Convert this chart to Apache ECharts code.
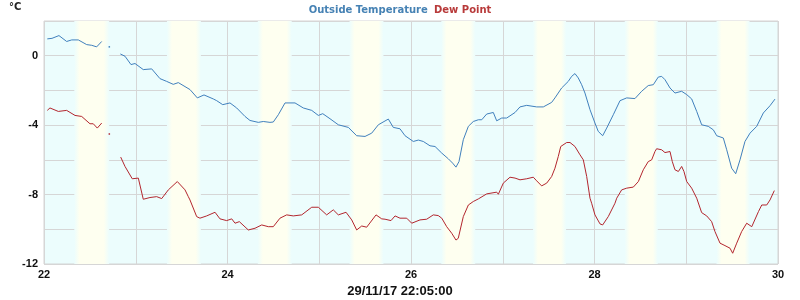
<!DOCTYPE html>
<html>
<head>
<meta charset="utf-8">
<script src="https://cdn.jsdelivr.net/npm/echarts@6/dist/echarts.min.js"></script>
<style>html,body{margin:0;padding:0;background:#fff}#c{width:800px;height:300px}</style>
</head>
<body>
<div id="c"></div>
<script>
// Time in decimal day of month (November 2017); null = gap in logging
const tempTimes = [22.036,22.087,22.163,22.247,22.302,22.374,22.465,22.52,22.574,22.629,22.67,22.712,22.76,
22.832,22.883,22.948,22.992,23.082,23.174,23.264,23.337,23.409,23.464,23.591,23.671,23.744,23.845,23.882,23.948,
24.027,24.1,24.191,24.245,24.336,24.39,24.463,24.499,24.554,24.627,24.736,24.826,24.918,24.99,25.038,25.117,25.208,
25.317,25.408,25.499,25.572,25.644,25.753,25.807,25.88,25.935,26.025,26.08,26.134,26.207,26.262,26.335,26.407,26.454,
26.49,26.523,26.57,26.625,26.679,26.734,26.771,26.825,26.897,26.934,26.989,27.043,27.134,27.188,27.261,27.37,27.442,
27.533,27.569,27.642,27.714,27.751,27.787,27.823,27.86,27.896,27.951,28.005,28.041,28.089,28.133,28.205,28.278,28.351,
28.441,28.514,28.586,28.641,28.695,28.732,28.768,28.823,28.877,28.95,29.005,29.059,29.114,29.168,29.24,29.295,29.332,
29.404,29.441,29.495,29.539,29.586,29.64,29.695,29.768,29.84,29.913,29.967];
const tempValues = [0.97,1.0,1.16,0.82,0.91,0.91,0.64,0.6,0.51,0.82,null,0.51,null,
0.1,-0.03,-0.51,-0.45,-0.8,-0.76,-1.32,-1.48,-1.65,-1.55,-1.95,-2.43,-2.26,-2.49,-2.59,-2.82,
-2.72,-3.01,-3.5,-3.73,-3.84,-3.79,-3.84,-3.82,-3.4,-2.72,-2.72,-3.01,-3.15,-3.44,-3.34,-3.63,-3.98,
-4.13,-4.61,-4.65,-4.46,-3.98,-3.65,-4.13,-4.21,-4.61,-4.94,-4.86,-4.94,-5.19,-5.23,-5.61,-5.94,-6.19,
-6.42,-6.1,-4.84,-4.07,-3.79,-3.69,-3.69,-3.36,-3.27,-3.75,-3.59,-3.59,-3.27,-2.95,-2.86,-2.95,-2.95,
-2.69,-2.43,-1.86,-1.48,-1.19,-1.03,-1.28,-1.67,-2.15,-3.11,-3.88,-4.36,-4.61,-4.17,-3.4,-2.59,-2.43,
-2.47,-2.05,-1.72,-1.67,-1.23,-1.19,-1.38,-1.86,-2.15,-2.05,-2.24,-2.49,-3.21,-3.98,-4.07,-4.27,-4.61,
-4.74,-5.42,-6.48,-6.8,-6.0,-4.94,-4.46,-4.07,-3.3,-2.88,-2.5];

const dewTimes = [22.036,22.065,22.156,22.247,22.338,22.411,22.501,22.537,22.581,22.629,22.67,22.712,22.76,
22.836,22.883,22.962,23.028,23.046,23.082,23.155,23.228,23.283,23.355,23.453,23.537,23.573,23.591,23.664,23.7,23.773,
23.864,23.918,23.991,24.046,24.082,24.129,24.227,24.3,24.373,24.445,24.499,24.572,24.645,24.717,24.809,24.918,24.99,
25.081,25.153,25.208,25.292,25.354,25.408,25.463,25.517,25.619,25.681,25.717,25.782,25.826,25.88,25.953,26.008,26.098,
26.171,26.243,26.297,26.335,26.389,26.444,26.49,26.515,26.57,26.625,26.679,26.734,26.825,26.934,26.952,27.006,27.079,
27.134,27.188,27.261,27.333,27.37,27.424,27.479,27.533,27.569,27.605,27.632,27.697,27.733,27.787,27.842,27.878,27.915,
27.951,27.969,28.005,28.06,28.089,28.15,28.223,28.242,28.296,28.351,28.423,28.478,28.532,28.586,28.623,28.659,28.677,
28.732,28.768,28.823,28.848,28.877,28.914,28.95,28.975,29.005,29.059,29.114,29.168,29.223,29.277,29.313,29.368,29.422,
29.477,29.506,29.55,29.604,29.659,29.714,29.787,29.823,29.877,29.913,29.96];
const dewValues = [-3.15,-3.01,-3.21,-3.15,-3.44,-3.5,-3.92,-3.92,-4.17,-3.88,null,-4.51,null,
-5.84,-6.38,-7.09,-7.05,-7.15,-8.27,-8.17,-8.12,-8.23,-7.73,-7.25,-7.73,-8.12,-8.31,-9.27,-9.36,-9.23,
-9.02,-9.4,-9.5,-9.4,-9.65,-9.56,-10.04,-9.94,-9.75,-9.85,-9.85,-9.36,-9.17,-9.23,-9.17,-8.73,-8.73,
-9.17,-8.88,-9.17,-9.02,-9.46,-10.04,-9.81,-9.88,-9.17,-9.4,-9.42,-9.5,-9.23,-9.36,-9.36,-9.65,-9.46,
-9.42,-9.17,-9.21,-9.36,-9.85,-10.23,-10.62,-10.52,-9.27,-8.6,-8.4,-8.25,-7.96,-7.86,-7.98,-7.34,-7.0,
-7.05,-7.15,-7.09,-7.0,-7.21,-7.5,-7.34,-6.96,-6.48,-5.81,-5.23,-5.0,-5.0,-5.23,-5.71,-6.0,-6.96,
-8.21,-8.5,-9.17,-9.69,-9.75,-9.27,-8.5,-8.21,-7.73,-7.63,-7.57,-7.25,-6.57,-6.1,-6.0,-5.52,-5.36,
-5.42,-5.58,-5.52,-6.1,-6.57,-6.67,-6.38,-6.67,-7.25,-7.63,-8.21,-9.04,-9.23,-9.56,-10.13,-10.8,-10.94,
-11.09,-11.38,-10.8,-10.13,-9.65,-9.85,-8.98,-8.6,-8.6,-8.31,-7.77];

// daylight periods (decimal day)
const daylightStarts = [22.33,23.34,24.33,25.33,26.33,27.33,28.33,29.33];
const daylightEnds   = [22.71,23.71,24.70,25.70,26.70,27.69,28.69,29.69];

const xTicks = [22,24,26,28,30];
const yTicks = [0,-4,-8,-12];
const titleParts = ['Outside Temperature','Dew Point'];
const dateLabel = '29/11/17 22:05:00';
const unitLabel = '°C';

const BLUE = '#4080bd', RED = '#b3262e';
const CYAN = '#ecfdfd', YELLOW = '#fefff0';

function toSeries(times, values, color) {
  return times.map((t, i) => {
    const v = values[i];
    if (v === null) return [t, '-'];
    const prevNull = i > 0 && values[i - 1] === null;
    const nextNull = i < values.length - 1 && values[i + 1] === null;
    if (prevNull && nextNull) {
      return { value: [t, v], symbol: 'rect', symbolSize: 1.5, itemStyle: { color: color } };
    }
    return [t, v];
  });
}

const bandGradient = new echarts.graphic.LinearGradient(0, 0, 1, 0, [
  { offset: 0, color: CYAN }, { offset: 0.15, color: YELLOW },
  { offset: 0.85, color: YELLOW }, { offset: 1, color: CYAN }
]);

const chart = echarts.init(document.getElementById('c'), null, { renderer: 'canvas' });
chart.setOption({
  animation: false,
  textStyle: { fontFamily: 'DejaVu Sans' },
  title: {
    text: '{a|' + titleParts[0] + '} {b|' + titleParts[1] + '}',
    left: 'center', top: 1, padding: 0,
    textStyle: {
      rich: {
        a: { color: '#4682b4', fontWeight: 'bold', fontSize: 10, fontFamily: 'DejaVu Sans', lineHeight: 12 },
        b: { color: '#b83a3a', fontWeight: 'bold', fontSize: 10, fontFamily: 'DejaVu Sans', lineHeight: 12 }
      }
    }
  },
  graphic: [
    { type: 'text', left: 9, top: 2, style: { text: unitLabel, font: 'bold 10px "DejaVu Sans"', fill: '#222' } },
    { type: 'text', left: 'center', top: 285, style: { text: dateLabel, font: 'bold 13px "Liberation Sans"', fill: '#111', x: -2 } }
  ],
  grid: { left: 44, right: 22, top: 21, bottom: 36, show: true, backgroundColor: CYAN, borderColor: '#d4d4d4', borderWidth: 1 },
  xAxis: {
    type: 'value', min: 22, max: 30, interval: 1,
    axisLine: { show: false }, axisTick: { show: false },
    splitLine: { show: true, lineStyle: { color: '#d6d6d6', width: 1 } },
    axisLabel: {
      margin: 5, color: '#111', fontWeight: 'bold', fontSize: 11, fontFamily: 'Liberation Sans',
      formatter: v => xTicks.indexOf(v) >= 0 ? String(v) : ''
    }
  },
  yAxis: {
    type: 'value', min: -12, max: 2, interval: 2,
    axisLine: { show: false }, axisTick: { show: false },
    splitLine: { show: true, lineStyle: { color: '#d6d6d6', width: 1 } },
    axisLabel: {
      margin: 6, color: '#111', fontWeight: 'bold', fontSize: 11, fontFamily: 'Liberation Sans',
      formatter: v => yTicks.indexOf(v) >= 0 ? String(v) : ''
    }
  },
  series: [
    {
      name: 'bands', type: 'line', data: [], z: 0, silent: true,
      markArea: {
        silent: true,
        itemStyle: { color: bandGradient },
        data: daylightStarts.map((s, i) => [{ xAxis: s }, { xAxis: daylightEnds[i] }])
      }
    },
    {
      name: titleParts[0], type: 'line', z: 3,
      data: toSeries(tempTimes, tempValues, BLUE),
      symbol: 'none', showSymbol: true, connectNulls: false,
      lineStyle: { color: BLUE, width: 1 }, itemStyle: { color: BLUE }
    },
    {
      name: titleParts[1], type: 'line', z: 3,
      data: toSeries(dewTimes, dewValues, RED),
      symbol: 'none', showSymbol: true, connectNulls: false,
      lineStyle: { color: RED, width: 1 }, itemStyle: { color: RED }
    }
  ]
});
</script>
</body>
</html>
